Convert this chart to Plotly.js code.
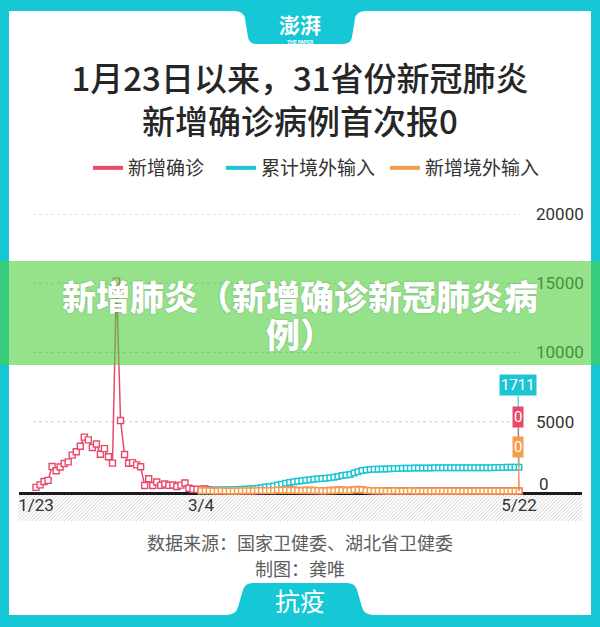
<!DOCTYPE html>
<html><head><meta charset="utf-8">
<script src="https://cdn.plot.ly/plotly-3.0.1.min.js"></script>
<style>html,body{margin:0;padding:0;background:#fff}</style>
</head><body><div id="chart" style="width:600px;height:627px"></div>
<script>
// ---- data ----
const monthSpans = [[1,23,31],[2,1,29],[3,1,31],[4,1,30],[5,1,22]];
const dates = [];
monthSpans.forEach(([m,s,e]) => { for (let d = s; d <= e; d++) dates.push(m + '/' + d); });

const seriesNames = ['新增确诊', '累计境外输入', '新增境外输入'];

// 新增确诊 1/23 .. 5/22
const newConfirmed = [
  259,444,688,769,1771,1459,1737,1982,2102,
  2590,2829,3235,3887,3694,3143,3399,2656,3062,2478,2015,15152,5090,2641,2009,2048,1886,1749,394,889,397,648,409,508,406,433,327,427,573,
  202,125,119,139,143,99,44,40,19,24,15,8,11,20,16,21,13,34,39,41,46,39,78,47,67,55,54,45,31,48,36,
  35,31,19,30,39,32,62,63,42,46,99,108,89,46,26,26,27,16,12,11,30,10,10,6,12,3,6,22,4,12,
  2,1,2,3,1,2,4,1,1,14,1,7,3,4,4,5,5,6,5,2,2,0
];

const importStartDate = '3/4';
// 累计境外输入 3/4 .. 5/22
const cumImported = [
  20,36,60,63,69,79,85,94,100,107,123,135,155,167,201,240,281,326,365,439,486,553,607,661,705,735,783,818,
  853,882,900,925,963,995,1054,1115,1153,1195,1292,1390,1476,1512,1546,1562,1577,1588,1596,1600,1623,1629,1635,1640,1651,1653,1656,1659,1663,1670,
  1671,1672,1674,1677,1677,1678,1680,1681,1682,1685,1686,1686,1686,1687,1688,1693,1698,1704,1709,1710,1711,1711
];
// 新增境外输入 3/4 .. 5/22
const newImported = [
  20,16,24,3,6,10,6,9,6,7,16,12,20,12,34,39,41,45,39,74,47,67,54,54,44,30,48,35,
  35,29,18,25,38,32,59,61,38,42,97,98,86,36,34,16,15,11,8,4,23,6,6,5,11,2,3,3,4,7,
  1,1,2,3,0,1,2,1,1,3,1,0,0,1,1,5,5,6,5,1,1,0
];

const xTickVals = ['1/23', '3/4', '5/22'];
const yTickVals = [5000, 10000, 15000, 20000];
const yTickText = ['5000', '10000', '15000', '20000'];

// ---- styles ----
const RED = '#e8496b', TEAL = '#1dc5d4', ORANGE = '#f49d4c', FRAME = '#16c7d6';
const CJK = '"Noto Sans CJK SC", sans-serif';
const NUM = 'Roboto, "Noto Sans CJK SC", sans-serif';

const importDates = dates.slice(dates.indexOf(importStartDate));

// plot box in pixels
const L = 19, T = 214, W = 512, H = 279;
const X = px => (px - L) / W;
const Y = py => (T + H - py) / H;
const P = (x, y) => X(x).toFixed(5) + ',' + Y(y).toFixed(5);

function sq(color, size, lw) {
  return {symbol: 'square', size: size, color: '#ffffff', line: {color: color, width: lw}};
}

const traces = [
  {x: dates, y: newConfirmed, type: 'scatter', mode: 'lines+markers', name: seriesNames[0],
   line: {color: RED, width: 1.5}, marker: sq(RED, 6, 1.4), showlegend: false, cliponaxis: false},
  {x: importDates, y: cumImported, type: 'scatter', mode: 'lines+markers', name: seriesNames[1],
   line: {color: TEAL, width: 1.5}, marker: sq(TEAL, 5.5, 1.5), showlegend: false, cliponaxis: false},
  {x: importDates, y: newImported, type: 'scatter', mode: 'lines+markers', name: seriesNames[2],
   line: {color: ORANGE, width: 1.5}, marker: sq(ORANGE, 5.5, 1.5), showlegend: false, cliponaxis: false},
  // legend entries
  {x: [null], y: [null], type: 'scatter', mode: 'lines', name: seriesNames[0], line: {color: RED, width: 4}, legend: 'legend'},
  {x: [null], y: [null], type: 'scatter', mode: 'lines', name: seriesNames[1], line: {color: TEAL, width: 4}, legend: 'legend2'},
  {x: [null], y: [null], type: 'scatter', mode: 'lines', name: seriesNames[2], line: {color: ORANGE, width: 4}, legend: 'legend3'}
];

// hatch band path
let hatch = '';
const hx0 = 18, hx1 = 582, hy0 = 495, hy1 = 521, hh = hy1 - hy0;
for (let x = hx0 - hh; x < hx1; x += 3.6) {
  let sx = x, sy = hy1, ex = x + hh, ey = hy0;
  if (sx < hx0) { sy = hy1 - (hx0 - sx); sx = hx0; }
  if (ex > hx1) { ey = hy0 + (ex - hx1); ex = hx1; }
  hatch += 'M' + P(sx, sy) + 'L' + P(ex, ey);
}

const shapes = [
  {type: 'rect', xref: 'paper', yref: 'paper', x0: X(9), x1: X(591), y0: Y(11), y1: Y(615),
   fillcolor: '#ffffff', line: {width: 0}, layer: 'below'},
  {type: 'path', xref: 'paper', yref: 'paper', layer: 'below', fillcolor: FRAME, line: {width: 0},
   path: 'M' + P(234, 9) + 'L' + P(234, 11) + 'Q' + P(244, 11) + ',' + P(245, 19) + 'L' + P(248, 37) +
         'Q' + P(249, 44) + ',' + P(257, 44) + 'L' + P(343, 44) + 'Q' + P(351, 44) + ',' + P(352, 37) +
         'L' + P(355, 19) + 'Q' + P(356, 11) + ',' + P(366, 11) + 'L' + P(366, 9) + 'Z'},
  {type: 'path', xref: 'paper', yref: 'paper', layer: 'below', fillcolor: FRAME, line: {width: 0},
   path: 'M' + P(226, 617) + 'L' + P(226, 615) + 'Q' + P(236, 615) + ',' + P(238, 607) + 'L' + P(243, 590) +
         'Q' + P(245, 583) + ',' + P(253, 583) + 'L' + P(347, 583) + 'Q' + P(355, 583) + ',' + P(357, 590) +
         'L' + P(362, 607) + 'Q' + P(364, 615) + ',' + P(374, 615) + 'L' + P(374, 617) + 'Z'},
  {type: 'path', xref: 'paper', yref: 'paper', layer: 'below', path: hatch, line: {color: '#d2d2d2', width: 1}},
  {type: 'line', xref: 'paper', yref: 'paper', layer: 'below', x0: X(19), x1: X(582), y0: Y(493.5), y1: Y(493.5),
   line: {color: '#1c1c1c', width: 3}}
];
yTickVals.forEach(v => shapes.push({type: 'line', xref: 'x', yref: 'y', layer: 'below',
  x0: -0.75, x1: dates.length - 0.75, y0: v, y1: v, line: {color: '#c9c9c9', width: 1, dash: 'dot'}}));
// overlay banner
shapes.push({type: 'rect', xref: 'paper', yref: 'paper', layer: 'above', x0: X(0), x1: X(600), y0: Y(261), y1: Y(365),
  fillcolor: 'rgba(78,206,62,0.6)', line: {width: 0}});

const lastDate = dates[dates.length - 1];
function endLabel(val, color, ay) {
  return {x: lastDate, y: val, xref: 'x', yref: 'y', text: String(val), showarrow: true, arrowhead: 0,
    arrowwidth: 1, arrowcolor: color, ax: -1, ay: ay, standoff: 0, startstandoff: 0,
    bgcolor: color, borderpad: 1, font: {family: NUM, size: 15, color: '#ffffff'}};
}
function txt(px, py, text, font) {
  return {x: X(px), xref: 'paper', y: Y(py), yref: 'paper', xanchor: 'center', yanchor: 'middle',
    text: text, showarrow: false, font: font};
}

const annotations = [
  endLabel(cumImported[cumImported.length - 1], TEAL, -82),
  endLabel(newConfirmed[newConfirmed.length - 1], RED, -74),
  endLabel(newImported[newImported.length - 1], ORANGE, -44),
  {x: X(537), xref: 'paper', y: 0, yref: 'y', yshift: 7, xanchor: 'left', yanchor: 'middle', text: '0', showarrow: false,
   font: {family: NUM, size: 17, color: '#333333'}},
  txt(300, 542, '数据来源：国家卫健委、湖北省卫健委', {family: CJK, size: 18, color: '#5c5c5c'}),
  txt(300, 568, '制图：龚唯', {family: CJK, size: 18, color: '#5c5c5c'}),
  txt(300, 600, '抗疫', {family: CJK, size: 25, color: '#ffffff'}),
  txt(300, 24, '澎湃', {family: CJK, size: 21, color: '#ffffff', weight: 700}),
  txt(300, 41.5, 'THE PAPER', {family: NUM, size: 5, color: '#ffffff', weight: 700}),
  txt(300, 295, '新增肺炎（新增确诊新冠肺炎病', {family: CJK, size: 34, color: '#ffffff', weight: 900, shadow: '0 0 2px rgba(0,0,0,0.25)'}),
  txt(300, 333, '例）', {family: CJK, size: 34, color: '#ffffff', weight: 900, shadow: '0 0 2px rgba(0,0,0,0.25)'})
];

function leg(px) {
  return {x: X(px), xanchor: 'left', y: Y(168), yanchor: 'middle', orientation: 'h',
    bgcolor: 'rgba(0,0,0,0)', borderwidth: 0, font: {family: CJK, size: 19, color: '#333333'}};
}

const layout = {
  width: 600, height: 627,
  margin: {l: L, r: 600 - L - W, t: T, b: 627 - T - H, pad: 0},
  paper_bgcolor: FRAME, plot_bgcolor: 'rgba(0,0,0,0)',
  font: {family: NUM, color: '#333333'},
  title: {text: '1月23日以来，31省份新冠肺炎<br>新增确诊病例首次报0', x: 0.5, xref: 'container', xanchor: 'center',
    y: (627 - 91) / 627, yref: 'container', yanchor: 'middle',
    font: {family: CJK, size: 33, color: '#262626', weight: 500}},
  xaxis: {type: 'category', categoryorder: 'array', categoryarray: dates,
    range: [-(36 - L) / 4.025, (L + W - 36) / 4.025], tickvals: xTickVals, ticktext: xTickVals,
    showgrid: false, zeroline: false, showline: false, ticks: '', fixedrange: true,
    tickfont: {family: NUM, size: 17, color: '#333333'}},
  yaxis: {range: [-144, 20000], side: 'right', tickvals: yTickVals, ticktext: yTickText,
    showgrid: false, zeroline: false, showline: false, ticks: '', ticklabelstandoff: 4,
    tickfont: {family: NUM, size: 17, color: '#333333'}},
  legend: leg(88), legend2: leg(221), legend3: leg(385),
  shapes: shapes,
  annotations: annotations
};

Plotly.newPlot('chart', traces, layout, {staticPlot: true, displayModeBar: false});
</script>
</body></html>
